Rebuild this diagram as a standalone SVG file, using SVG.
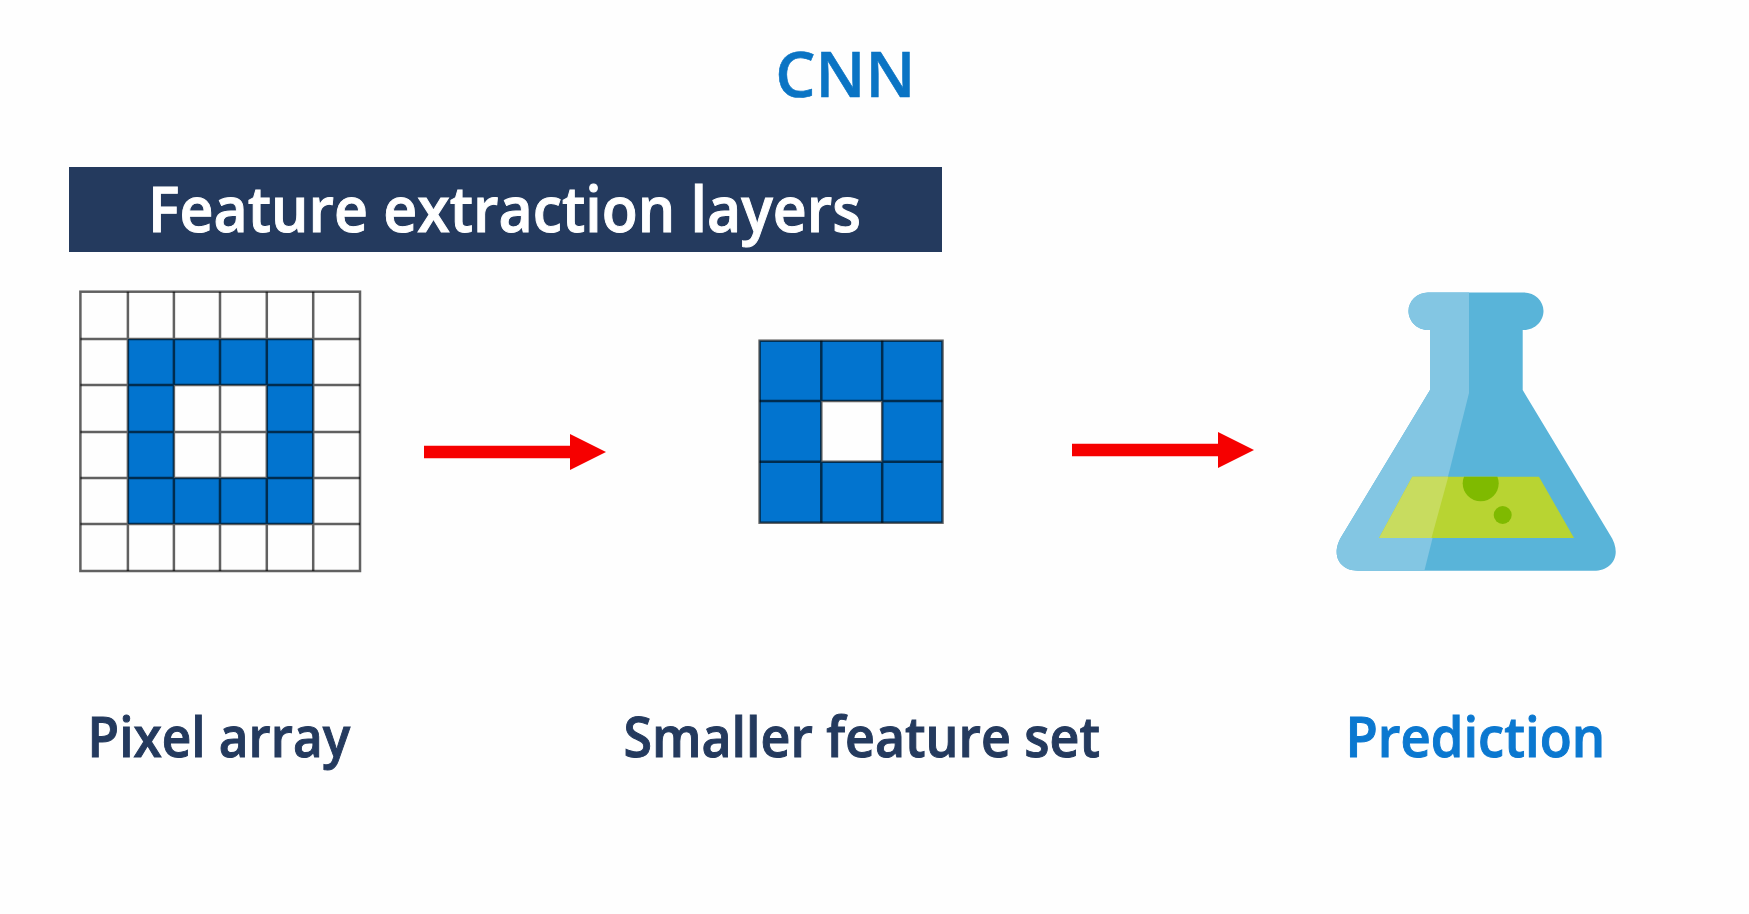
<svg xmlns="http://www.w3.org/2000/svg" width="1749" height="914" viewBox="0 0 1749 914">
<style>
text{font-family:"Open Sans","Noto Sans","Liberation Sans",sans-serif;font-weight:600}
.navy{fill:#243a5e;stroke:#243a5e}
.pred{fill:#0b78d0;stroke:#0b78d0}
.title{font-size:63px;fill:#0a74c4;stroke:#0a74c4;stroke-width:.6}
.head{font-size:63px;fill:#fff;stroke:#fff;stroke-width:1}
.label{font-size:56px;stroke-width:1}
.cell{fill:#0274cf}
.grid{fill:none;stroke:#000;stroke-opacity:.62;stroke-width:2.5}
.conn{stroke:#f60000;stroke-width:12.3;fill:none}
</style>
<defs>
<marker id="head" markerUnits="userSpaceOnUse" markerWidth="37" markerHeight="36" refX="0" refY="18" orient="auto">
<polygon points="0,0 36,18 0,36" fill="#f60000"/>
</marker>
<clipPath id="flask-clip"><path d="M1430 330H1428C1417 330 1408.500 321 1408.500 311C1408.500 301 1417 292.500 1428 292.500H1524C1535 292.500 1543.500 301 1543.500 311C1543.500 321 1535 330 1524 330H1522.700V390L1609.500 534C1623.500 555 1612 570.700 1594 570.700H1358C1340 570.700 1329 555 1343 534L1430 390Z"/></clipPath>
<clipPath id="liquid-clip"><polygon points="1412.300,476.700 1539,476.700 1574,538 1379,538"/></clipPath>
</defs>
<rect width="1749" height="914" fill="#fefefe"/>
<g id="title"><text class="title" x="775.300" y="96.700" textLength="140" lengthAdjust="spacingAndGlyphs">CNN</text></g>
<g id="feature-extraction-layers">
<rect x="69" y="167" width="873" height="85" fill="#243a5e"/>
<text class="head" x="148" y="232" textLength="713" lengthAdjust="spacingAndGlyphs">Feature extraction layers</text>
</g>
<g id="pixel-array">
<path class="cell" d="M127.900 339H313.200V524H127.900ZM173.900 385V478H266.800V385Z" fill-rule="evenodd"/>
<rect class="grid" x="80.400" y="291.700" width="279.600" height="279.300"/>
<path class="grid" d="M127.900 291.700V571M173.900 291.700V571M220 291.700V571M266.800 291.700V571M313.200 291.700V571M80.400 339H360M80.400 385H360M80.400 432H360M80.400 478H360M80.400 524H360"/>
<text class="label navy" x="87.600" y="756.700" textLength="262.500" lengthAdjust="spacingAndGlyphs">Pixel array</text>
</g>
<g id="smaller-feature-set">
<path class="cell" d="M759.600 340.700H942.500V522.700H759.600ZM821.300 401V461.700H882.200V401Z" fill-rule="evenodd"/>
<rect class="grid" x="759.600" y="340.700" width="182.900" height="182"/>
<path class="grid" d="M821.300 340.700V522.700M882.200 340.700V522.700M759.600 401H942.500M759.600 461.700H942.500"/>
<text class="label navy" x="623.500" y="756.700" textLength="476.500" lengthAdjust="spacingAndGlyphs">Smaller feature set</text>
</g>
<g id="prediction">
<g clip-path="url(#flask-clip)">
<rect x="1330" y="285" width="295" height="295" fill="#59b4d9"/>
<path d="M1325 285H1469V393L1423.300 575H1325Z" fill="#83c6e3"/>
</g>
<polygon points="1412.300,476.700 1539,476.700 1574,538 1379,538" fill="#b8d432"/>
<polygon points="1412.300,476.700 1448.300,476.700 1431.500,538 1379,538" fill="#c8dc5f"/>
<circle cx="1480.700" cy="483.300" r="18" fill="#7fba00" clip-path="url(#liquid-clip)"/>
<circle cx="1502.700" cy="515" r="9" fill="#7fba00"/>
<text class="label pred" x="1345.500" y="756.700" textLength="259.600" lengthAdjust="spacingAndGlyphs">Prediction</text>
</g>
<g id="connectors">
<line class="conn" x1="424" y1="452" x2="570" y2="452" marker-end="url(#head)"/>
<line class="conn" x1="1072" y1="450" x2="1218" y2="450" marker-end="url(#head)"/>
</g>
</svg>
